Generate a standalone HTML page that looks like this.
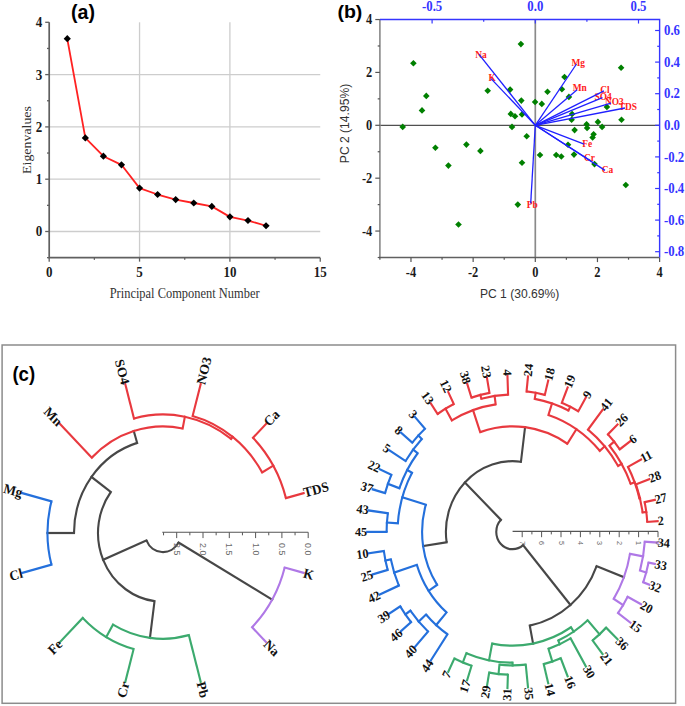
<!DOCTYPE html>
<html><head><meta charset="utf-8"><style>
html,body{margin:0;padding:0;background:#fff;width:685px;height:706px;overflow:hidden}
svg{display:block}
</style></head><body>
<svg width="685" height="706" viewBox="0 0 685 706">
<rect width="685" height="706" fill="#fff"/>
<line x1="49.20" y1="231.50" x2="320.25" y2="231.50" stroke="#cdcdcd" stroke-width="1.3"/>
<line x1="49.20" y1="179.20" x2="320.25" y2="179.20" stroke="#cdcdcd" stroke-width="1.3"/>
<line x1="49.20" y1="126.90" x2="320.25" y2="126.90" stroke="#cdcdcd" stroke-width="1.3"/>
<line x1="49.20" y1="74.60" x2="320.25" y2="74.60" stroke="#cdcdcd" stroke-width="1.3"/>
<line x1="139.55" y1="22.30" x2="139.55" y2="257.65" stroke="#cdcdcd" stroke-width="1.3"/>
<line x1="229.90" y1="22.30" x2="229.90" y2="257.65" stroke="#cdcdcd" stroke-width="1.3"/>
<path d="M49.20 22.30 V257.65 H320.25" fill="none" stroke="#606060" stroke-width="1.7"/>
<line x1="45.20" y1="231.50" x2="49.20" y2="231.50" stroke="#606060" stroke-width="1.3"/>
<line x1="45.20" y1="179.20" x2="49.20" y2="179.20" stroke="#606060" stroke-width="1.3"/>
<line x1="45.20" y1="126.90" x2="49.20" y2="126.90" stroke="#606060" stroke-width="1.3"/>
<line x1="45.20" y1="74.60" x2="49.20" y2="74.60" stroke="#606060" stroke-width="1.3"/>
<line x1="45.20" y1="22.30" x2="49.20" y2="22.30" stroke="#606060" stroke-width="1.3"/>
<line x1="47.00" y1="257.65" x2="49.20" y2="257.65" stroke="#606060" stroke-width="1.3"/>
<line x1="47.00" y1="205.35" x2="49.20" y2="205.35" stroke="#606060" stroke-width="1.3"/>
<line x1="47.00" y1="153.05" x2="49.20" y2="153.05" stroke="#606060" stroke-width="1.3"/>
<line x1="47.00" y1="100.75" x2="49.20" y2="100.75" stroke="#606060" stroke-width="1.3"/>
<line x1="47.00" y1="48.45" x2="49.20" y2="48.45" stroke="#606060" stroke-width="1.3"/>
<line x1="49.20" y1="257.65" x2="49.20" y2="261.65" stroke="#606060" stroke-width="1.3"/>
<line x1="139.55" y1="257.65" x2="139.55" y2="261.65" stroke="#606060" stroke-width="1.3"/>
<line x1="229.90" y1="257.65" x2="229.90" y2="261.65" stroke="#606060" stroke-width="1.3"/>
<line x1="320.25" y1="257.65" x2="320.25" y2="261.65" stroke="#606060" stroke-width="1.3"/>
<line x1="94.38" y1="257.65" x2="94.38" y2="259.85" stroke="#606060" stroke-width="1.3"/>
<line x1="184.73" y1="257.65" x2="184.73" y2="259.85" stroke="#606060" stroke-width="1.3"/>
<line x1="275.07" y1="257.65" x2="275.07" y2="259.85" stroke="#606060" stroke-width="1.3"/>
<text transform="translate(42.20,236.40) scale(1.000,1.130)" text-anchor="end" font-family='"Liberation Serif", serif' font-weight="bold" font-size="13" fill="#1a1a1a">0</text>
<text transform="translate(42.20,184.10) scale(1.000,1.130)" text-anchor="end" font-family='"Liberation Serif", serif' font-weight="bold" font-size="13" fill="#1a1a1a">1</text>
<text transform="translate(42.20,131.80) scale(1.000,1.130)" text-anchor="end" font-family='"Liberation Serif", serif' font-weight="bold" font-size="13" fill="#1a1a1a">2</text>
<text transform="translate(42.20,79.50) scale(1.000,1.130)" text-anchor="end" font-family='"Liberation Serif", serif' font-weight="bold" font-size="13" fill="#1a1a1a">3</text>
<text transform="translate(42.20,27.20) scale(1.000,1.130)" text-anchor="end" font-family='"Liberation Serif", serif' font-weight="bold" font-size="13" fill="#1a1a1a">4</text>
<text transform="translate(49.20,277.20) scale(1.000,1.130)" text-anchor="middle" font-family='"Liberation Serif", serif' font-weight="bold" font-size="13" fill="#1a1a1a">0</text>
<text transform="translate(139.55,277.20) scale(1.000,1.130)" text-anchor="middle" font-family='"Liberation Serif", serif' font-weight="bold" font-size="13" fill="#1a1a1a">5</text>
<text transform="translate(229.90,277.20) scale(1.000,1.130)" text-anchor="middle" font-family='"Liberation Serif", serif' font-weight="bold" font-size="13" fill="#1a1a1a">10</text>
<text transform="translate(320.25,277.20) scale(1.000,1.130)" text-anchor="middle" font-family='"Liberation Serif", serif' font-weight="bold" font-size="13" fill="#1a1a1a">15</text>
<text transform="translate(184.60,298.30) scale(1.000,1.120)" text-anchor="middle" font-family='"Liberation Serif", serif' font-size="12.45" fill="#333">Principal Component Number</text>
<text transform="translate(31.30,140.00) rotate(-90) scale(1.120,1.000)" text-anchor="middle" font-family='"Liberation Serif", serif' font-size="12.4" fill="#333">Eigenvalues</text>
<path d="M67.27 38.72 L85.34 137.88 L103.41 156.19 L121.48 164.82 L139.55 188.09 L157.62 194.52 L175.69 199.60 L193.76 203.00 L211.83 206.40 L229.90 216.86 L247.97 220.52 L266.04 225.75" fill="none" stroke="#ff2222" stroke-width="1.8" stroke-linejoin="round"/>
<path d="M67.27 35.12 L70.87 38.72 L67.27 42.32 L63.67 38.72Z" fill="#000"/>
<path d="M85.34 134.28 L88.94 137.88 L85.34 141.48 L81.74 137.88Z" fill="#000"/>
<path d="M103.41 152.59 L107.01 156.19 L103.41 159.79 L99.81 156.19Z" fill="#000"/>
<path d="M121.48 161.22 L125.08 164.82 L121.48 168.42 L117.88 164.82Z" fill="#000"/>
<path d="M139.55 184.49 L143.15 188.09 L139.55 191.69 L135.95 188.09Z" fill="#000"/>
<path d="M157.62 190.92 L161.22 194.52 L157.62 198.12 L154.02 194.52Z" fill="#000"/>
<path d="M175.69 196.00 L179.29 199.60 L175.69 203.20 L172.09 199.60Z" fill="#000"/>
<path d="M193.76 199.40 L197.36 203.00 L193.76 206.60 L190.16 203.00Z" fill="#000"/>
<path d="M211.83 202.80 L215.43 206.40 L211.83 210.00 L208.23 206.40Z" fill="#000"/>
<path d="M229.90 213.26 L233.50 216.86 L229.90 220.46 L226.30 216.86Z" fill="#000"/>
<path d="M247.97 216.92 L251.57 220.52 L247.97 224.12 L244.37 220.52Z" fill="#000"/>
<path d="M266.04 222.15 L269.64 225.75 L266.04 229.35 L262.44 225.75Z" fill="#000"/>
<text transform="translate(71.00,18.70)" text-anchor="start" font-family='"Liberation Sans", sans-serif' font-weight="bold" font-size="19.6" fill="#000">(a)</text>
<line x1="379.90" y1="125.30" x2="659.62" y2="125.30" stroke="#505050" stroke-width="1.3"/>
<line x1="535.30" y1="19.54" x2="535.30" y2="257.50" stroke="#8a8a8a" stroke-width="1.7"/>
<line x1="379.90" y1="19.54" x2="379.90" y2="257.50" stroke="#888" stroke-width="1.6"/>
<line x1="379.10" y1="257.50" x2="659.62" y2="257.50" stroke="#606060" stroke-width="1.5"/>
<path d="M379.90 19.54 H659.62 V257.50" fill="none" stroke="#3535ff" stroke-width="1.4"/>
<line x1="375.30" y1="231.06" x2="379.90" y2="231.06" stroke="#555" stroke-width="1.2"/>
<line x1="410.98" y1="257.50" x2="410.98" y2="262.10" stroke="#555" stroke-width="1.2"/>
<line x1="375.30" y1="178.18" x2="379.90" y2="178.18" stroke="#555" stroke-width="1.2"/>
<line x1="473.14" y1="257.50" x2="473.14" y2="262.10" stroke="#555" stroke-width="1.2"/>
<line x1="375.30" y1="125.30" x2="379.90" y2="125.30" stroke="#555" stroke-width="1.2"/>
<line x1="535.30" y1="257.50" x2="535.30" y2="262.10" stroke="#555" stroke-width="1.2"/>
<line x1="375.30" y1="72.42" x2="379.90" y2="72.42" stroke="#555" stroke-width="1.2"/>
<line x1="597.46" y1="257.50" x2="597.46" y2="262.10" stroke="#555" stroke-width="1.2"/>
<line x1="375.30" y1="19.54" x2="379.90" y2="19.54" stroke="#555" stroke-width="1.2"/>
<line x1="659.62" y1="257.50" x2="659.62" y2="262.10" stroke="#555" stroke-width="1.2"/>
<line x1="377.70" y1="257.50" x2="379.90" y2="257.50" stroke="#555" stroke-width="1.2"/>
<line x1="377.70" y1="204.62" x2="379.90" y2="204.62" stroke="#555" stroke-width="1.2"/>
<line x1="377.70" y1="151.74" x2="379.90" y2="151.74" stroke="#555" stroke-width="1.2"/>
<line x1="377.70" y1="98.86" x2="379.90" y2="98.86" stroke="#555" stroke-width="1.2"/>
<line x1="377.70" y1="45.98" x2="379.90" y2="45.98" stroke="#555" stroke-width="1.2"/>
<line x1="379.90" y1="257.50" x2="379.90" y2="259.70" stroke="#555" stroke-width="1.2"/>
<line x1="442.06" y1="257.50" x2="442.06" y2="259.70" stroke="#555" stroke-width="1.2"/>
<line x1="504.22" y1="257.50" x2="504.22" y2="259.70" stroke="#555" stroke-width="1.2"/>
<line x1="566.38" y1="257.50" x2="566.38" y2="259.70" stroke="#555" stroke-width="1.2"/>
<line x1="628.54" y1="257.50" x2="628.54" y2="259.70" stroke="#555" stroke-width="1.2"/>
<line x1="432.10" y1="19.54" x2="432.10" y2="23.54" stroke="#3535ff" stroke-width="1.2"/>
<line x1="535.30" y1="19.54" x2="535.30" y2="23.54" stroke="#3535ff" stroke-width="1.2"/>
<line x1="638.50" y1="19.54" x2="638.50" y2="23.54" stroke="#3535ff" stroke-width="1.2"/>
<line x1="483.70" y1="19.54" x2="483.70" y2="21.74" stroke="#3535ff" stroke-width="1.2"/>
<line x1="586.90" y1="19.54" x2="586.90" y2="21.74" stroke="#3535ff" stroke-width="1.2"/>
<line x1="655.12" y1="30.50" x2="659.62" y2="30.50" stroke="#3535ff" stroke-width="1.2"/>
<line x1="655.12" y1="62.10" x2="659.62" y2="62.10" stroke="#3535ff" stroke-width="1.2"/>
<line x1="655.12" y1="93.70" x2="659.62" y2="93.70" stroke="#3535ff" stroke-width="1.2"/>
<line x1="655.12" y1="125.30" x2="659.62" y2="125.30" stroke="#3535ff" stroke-width="1.2"/>
<line x1="655.12" y1="156.90" x2="659.62" y2="156.90" stroke="#3535ff" stroke-width="1.2"/>
<line x1="655.12" y1="188.50" x2="659.62" y2="188.50" stroke="#3535ff" stroke-width="1.2"/>
<line x1="655.12" y1="220.10" x2="659.62" y2="220.10" stroke="#3535ff" stroke-width="1.2"/>
<line x1="655.12" y1="251.70" x2="659.62" y2="251.70" stroke="#3535ff" stroke-width="1.2"/>
<line x1="657.22" y1="46.30" x2="659.62" y2="46.30" stroke="#3535ff" stroke-width="1.2"/>
<line x1="657.22" y1="77.90" x2="659.62" y2="77.90" stroke="#3535ff" stroke-width="1.2"/>
<line x1="657.22" y1="109.50" x2="659.62" y2="109.50" stroke="#3535ff" stroke-width="1.2"/>
<line x1="657.22" y1="141.10" x2="659.62" y2="141.10" stroke="#3535ff" stroke-width="1.2"/>
<line x1="657.22" y1="172.70" x2="659.62" y2="172.70" stroke="#3535ff" stroke-width="1.2"/>
<line x1="657.22" y1="204.30" x2="659.62" y2="204.30" stroke="#3535ff" stroke-width="1.2"/>
<line x1="657.22" y1="235.90" x2="659.62" y2="235.90" stroke="#3535ff" stroke-width="1.2"/>
<text transform="translate(372.30,235.66) scale(1.000,1.180)" text-anchor="end" font-family='"Liberation Serif", serif' font-weight="bold" font-size="12.4" fill="#1a1a1a">-4</text>
<text transform="translate(410.98,276.50) scale(1.000,1.180)" text-anchor="middle" font-family='"Liberation Serif", serif' font-weight="bold" font-size="12.4" fill="#1a1a1a">-4</text>
<text transform="translate(372.30,182.78) scale(1.000,1.180)" text-anchor="end" font-family='"Liberation Serif", serif' font-weight="bold" font-size="12.4" fill="#1a1a1a">-2</text>
<text transform="translate(473.14,276.50) scale(1.000,1.180)" text-anchor="middle" font-family='"Liberation Serif", serif' font-weight="bold" font-size="12.4" fill="#1a1a1a">-2</text>
<text transform="translate(372.30,129.90) scale(1.000,1.180)" text-anchor="end" font-family='"Liberation Serif", serif' font-weight="bold" font-size="12.4" fill="#1a1a1a">0</text>
<text transform="translate(535.30,276.50) scale(1.000,1.180)" text-anchor="middle" font-family='"Liberation Serif", serif' font-weight="bold" font-size="12.4" fill="#1a1a1a">0</text>
<text transform="translate(372.30,77.02) scale(1.000,1.180)" text-anchor="end" font-family='"Liberation Serif", serif' font-weight="bold" font-size="12.4" fill="#1a1a1a">2</text>
<text transform="translate(597.46,276.50) scale(1.000,1.180)" text-anchor="middle" font-family='"Liberation Serif", serif' font-weight="bold" font-size="12.4" fill="#1a1a1a">2</text>
<text transform="translate(372.30,24.14) scale(1.000,1.180)" text-anchor="end" font-family='"Liberation Serif", serif' font-weight="bold" font-size="12.4" fill="#1a1a1a">4</text>
<text transform="translate(659.62,276.50) scale(1.000,1.180)" text-anchor="middle" font-family='"Liberation Serif", serif' font-weight="bold" font-size="12.4" fill="#1a1a1a">4</text>
<text transform="translate(432.10,11.30) scale(1.000,1.120)" text-anchor="middle" font-family='"Liberation Serif", serif' font-weight="bold" font-size="12.8" fill="#3535ff">-0.5</text>
<text transform="translate(535.30,11.30) scale(1.000,1.120)" text-anchor="middle" font-family='"Liberation Serif", serif' font-weight="bold" font-size="12.8" fill="#3535ff">0.0</text>
<text transform="translate(638.50,11.30) scale(1.000,1.120)" text-anchor="middle" font-family='"Liberation Serif", serif' font-weight="bold" font-size="12.8" fill="#3535ff">0.5</text>
<text transform="translate(664.00,35.20) scale(1.000,1.150)" text-anchor="start" font-family='"Liberation Serif", serif' font-weight="bold" font-size="12.8" fill="#3535ff">0.6</text>
<text transform="translate(664.00,66.80) scale(1.000,1.150)" text-anchor="start" font-family='"Liberation Serif", serif' font-weight="bold" font-size="12.8" fill="#3535ff">0.4</text>
<text transform="translate(664.00,98.40) scale(1.000,1.150)" text-anchor="start" font-family='"Liberation Serif", serif' font-weight="bold" font-size="12.8" fill="#3535ff">0.2</text>
<text transform="translate(664.00,130.00) scale(1.000,1.150)" text-anchor="start" font-family='"Liberation Serif", serif' font-weight="bold" font-size="12.8" fill="#3535ff">0.0</text>
<text transform="translate(664.00,161.60) scale(1.000,1.150)" text-anchor="start" font-family='"Liberation Serif", serif' font-weight="bold" font-size="12.8" fill="#3535ff">-0.2</text>
<text transform="translate(664.00,193.20) scale(1.000,1.150)" text-anchor="start" font-family='"Liberation Serif", serif' font-weight="bold" font-size="12.8" fill="#3535ff">-0.4</text>
<text transform="translate(664.00,224.80) scale(1.000,1.150)" text-anchor="start" font-family='"Liberation Serif", serif' font-weight="bold" font-size="12.8" fill="#3535ff">-0.6</text>
<text transform="translate(664.00,256.40) scale(1.000,1.150)" text-anchor="start" font-family='"Liberation Serif", serif' font-weight="bold" font-size="12.8" fill="#3535ff">-0.8</text>
<text transform="translate(519.60,297.70)" text-anchor="middle" font-family='"Liberation Sans", sans-serif' font-size="12.1" fill="#333">PC 1 (30.69%)</text>
<text transform="translate(348.60,123.50) rotate(-90)" text-anchor="middle" font-family='"Liberation Sans", sans-serif' font-size="12.1" fill="#333">PC 2 (14.95%)</text>
<text transform="translate(337.40,17.60) scale(1.050,1.000)" text-anchor="start" font-family='"Liberation Sans", sans-serif' font-weight="bold" font-size="18.6" fill="#000">(b)</text>
<path d="M520.90 40.80 L524.20 44.10 L520.90 47.40 L517.60 44.10Z" fill="#008000"/>
<path d="M413.40 59.90 L416.70 63.20 L413.40 66.50 L410.10 63.20Z" fill="#008000"/>
<path d="M621.10 64.50 L624.40 67.80 L621.10 71.10 L617.80 67.80Z" fill="#008000"/>
<path d="M564.50 73.70 L567.80 77.00 L564.50 80.30 L561.20 77.00Z" fill="#008000"/>
<path d="M426.30 92.60 L429.60 95.90 L426.30 99.20 L423.00 95.90Z" fill="#008000"/>
<path d="M487.70 87.50 L491.00 90.80 L487.70 94.10 L484.40 90.80Z" fill="#008000"/>
<path d="M510.10 86.30 L513.40 89.60 L510.10 92.90 L506.80 89.60Z" fill="#008000"/>
<path d="M547.50 88.40 L550.80 91.70 L547.50 95.00 L544.20 91.70Z" fill="#008000"/>
<path d="M561.90 86.00 L565.20 89.30 L561.90 92.60 L558.60 89.30Z" fill="#008000"/>
<path d="M568.90 93.60 L572.20 96.90 L568.90 100.20 L565.60 96.90Z" fill="#008000"/>
<path d="M422.00 107.10 L425.30 110.40 L422.00 113.70 L418.70 110.40Z" fill="#008000"/>
<path d="M521.30 97.30 L524.60 100.60 L521.30 103.90 L518.00 100.60Z" fill="#008000"/>
<path d="M535.10 98.70 L538.40 102.00 L535.10 105.30 L531.80 102.00Z" fill="#008000"/>
<path d="M541.80 100.60 L545.10 103.90 L541.80 107.20 L538.50 103.90Z" fill="#008000"/>
<path d="M510.80 110.60 L514.10 113.90 L510.80 117.20 L507.50 113.90Z" fill="#008000"/>
<path d="M515.00 112.90 L518.30 116.20 L515.00 119.50 L511.70 116.20Z" fill="#008000"/>
<path d="M522.00 111.10 L525.30 114.40 L522.00 117.70 L518.70 114.40Z" fill="#008000"/>
<path d="M572.10 110.70 L575.40 114.00 L572.10 117.30 L568.80 114.00Z" fill="#008000"/>
<path d="M571.60 116.50 L574.90 119.80 L571.60 123.10 L568.30 119.80Z" fill="#008000"/>
<path d="M606.90 103.60 L610.20 106.90 L606.90 110.20 L603.60 106.90Z" fill="#008000"/>
<path d="M621.50 116.40 L624.80 119.70 L621.50 123.00 L618.20 119.70Z" fill="#008000"/>
<path d="M402.70 123.60 L406.00 126.90 L402.70 130.20 L399.40 126.90Z" fill="#008000"/>
<path d="M512.00 123.60 L515.30 126.90 L512.00 130.20 L508.70 126.90Z" fill="#008000"/>
<path d="M586.60 121.00 L589.90 124.30 L586.60 127.60 L583.30 124.30Z" fill="#008000"/>
<path d="M587.10 124.60 L590.40 127.90 L587.10 131.20 L583.80 127.90Z" fill="#008000"/>
<path d="M597.90 118.60 L601.20 121.90 L597.90 125.20 L594.60 121.90Z" fill="#008000"/>
<path d="M602.10 123.60 L605.40 126.90 L602.10 130.20 L598.80 126.90Z" fill="#008000"/>
<path d="M526.70 132.90 L530.00 136.20 L526.70 139.50 L523.40 136.20Z" fill="#008000"/>
<path d="M574.60 126.80 L577.90 130.10 L574.60 133.40 L571.30 130.10Z" fill="#008000"/>
<path d="M593.60 131.00 L596.90 134.30 L593.60 137.60 L590.30 134.30Z" fill="#008000"/>
<path d="M592.60 134.20 L595.90 137.50 L592.60 140.80 L589.30 137.50Z" fill="#008000"/>
<path d="M568.00 141.40 L571.30 144.70 L568.00 148.00 L564.70 144.70Z" fill="#008000"/>
<path d="M435.40 144.50 L438.70 147.80 L435.40 151.10 L432.10 147.80Z" fill="#008000"/>
<path d="M466.40 141.30 L469.70 144.60 L466.40 147.90 L463.10 144.60Z" fill="#008000"/>
<path d="M480.40 147.60 L483.70 150.90 L480.40 154.20 L477.10 150.90Z" fill="#008000"/>
<path d="M540.00 151.70 L543.30 155.00 L540.00 158.30 L536.70 155.00Z" fill="#008000"/>
<path d="M556.20 151.70 L559.50 155.00 L556.20 158.30 L552.90 155.00Z" fill="#008000"/>
<path d="M561.30 153.20 L564.60 156.50 L561.30 159.80 L558.00 156.50Z" fill="#008000"/>
<path d="M574.00 151.30 L577.30 154.60 L574.00 157.90 L570.70 154.60Z" fill="#008000"/>
<path d="M448.40 162.30 L451.70 165.60 L448.40 168.90 L445.10 165.60Z" fill="#008000"/>
<path d="M522.00 159.50 L525.30 162.80 L522.00 166.10 L518.70 162.80Z" fill="#008000"/>
<path d="M594.50 160.80 L597.80 164.10 L594.50 167.40 L591.20 164.10Z" fill="#008000"/>
<path d="M625.80 181.70 L629.10 185.00 L625.80 188.30 L622.50 185.00Z" fill="#008000"/>
<path d="M517.80 201.30 L521.10 204.60 L517.80 207.90 L514.50 204.60Z" fill="#008000"/>
<path d="M458.50 221.20 L461.80 224.50 L458.50 227.80 L455.20 224.50Z" fill="#008000"/>
<text x="475.30" y="57.60" font-family='"Liberation Serif", serif' font-weight="bold" font-size="9.4" fill="#ff2020">Na</text>
<text x="488.60" y="81.00" font-family='"Liberation Serif", serif' font-weight="bold" font-size="9.4" fill="#ff2020">K</text>
<text x="571.40" y="66.40" font-family='"Liberation Serif", serif' font-weight="bold" font-size="9.4" fill="#ff2020">Mg</text>
<text x="572.70" y="90.60" font-family='"Liberation Serif", serif' font-weight="bold" font-size="9.4" fill="#ff2020">Mn</text>
<text x="600.20" y="93.00" font-family='"Liberation Serif", serif' font-weight="bold" font-size="9.4" fill="#ff2020">Cl</text>
<text x="594.50" y="99.60" font-family='"Liberation Serif", serif' font-weight="bold" font-size="9.4" fill="#ff2020">SO4</text>
<text x="605.00" y="105.00" font-family='"Liberation Serif", serif' font-weight="bold" font-size="9.4" fill="#ff2020">NO3</text>
<text x="618.80" y="110.00" font-family='"Liberation Serif", serif' font-weight="bold" font-size="9.4" fill="#ff2020">TDS</text>
<text x="582.20" y="147.00" font-family='"Liberation Serif", serif' font-weight="bold" font-size="9.4" fill="#ff2020">Fe</text>
<text x="584.00" y="160.80" font-family='"Liberation Serif", serif' font-weight="bold" font-size="9.4" fill="#ff2020">Cr</text>
<text x="601.70" y="172.60" font-family='"Liberation Serif", serif' font-weight="bold" font-size="9.4" fill="#ff2020">Ca</text>
<text x="526.70" y="208.20" font-family='"Liberation Serif", serif' font-weight="bold" font-size="9.4" fill="#ff2020">Pb</text>
<line x1="535.30" y1="125.30" x2="479.00" y2="54.30" stroke="#2020ff" stroke-width="1.3"/>
<line x1="535.30" y1="125.30" x2="491.00" y2="78.60" stroke="#2020ff" stroke-width="1.3"/>
<line x1="535.30" y1="125.30" x2="576.50" y2="64.00" stroke="#2020ff" stroke-width="1.3"/>
<line x1="535.30" y1="125.30" x2="577.10" y2="89.80" stroke="#2020ff" stroke-width="1.3"/>
<line x1="535.30" y1="125.30" x2="604.00" y2="90.80" stroke="#2020ff" stroke-width="1.3"/>
<line x1="535.30" y1="125.30" x2="602.50" y2="97.60" stroke="#2020ff" stroke-width="1.3"/>
<line x1="535.30" y1="125.30" x2="611.00" y2="103.20" stroke="#2020ff" stroke-width="1.3"/>
<line x1="535.30" y1="125.30" x2="625.00" y2="108.00" stroke="#2020ff" stroke-width="1.3"/>
<line x1="535.30" y1="125.30" x2="584.10" y2="144.20" stroke="#2020ff" stroke-width="1.3"/>
<line x1="535.30" y1="125.30" x2="591.00" y2="161.00" stroke="#2020ff" stroke-width="1.3"/>
<line x1="535.30" y1="125.30" x2="605.00" y2="170.40" stroke="#2020ff" stroke-width="1.3"/>
<line x1="535.30" y1="125.30" x2="530.70" y2="203.40" stroke="#2020ff" stroke-width="1.3"/>
<rect x="2.1" y="345.0" width="673.5" height="358.3" fill="none" stroke="#8c8c8c" stroke-width="1.5"/>
<text transform="translate(12.40,381.00) scale(0.910,1.000)" text-anchor="start" font-family='"Liberation Sans", sans-serif' font-weight="bold" font-size="20.4" fill="#000">(c)</text>
<g transform="translate(163.0,533.0) scale(1,1.058)">
<path d="M15.59 9.00 A18.00 18.00 0 0 1 -16.57 7.02" fill="none" stroke="#474747" stroke-width="2.1"/>
<line x1="109.12" y1="63.00" x2="15.59" y2="9.00" stroke="#474747" stroke-width="2.1" stroke-linecap="square"/>
<path d="M121.71 32.61 A126.00 126.00 0 0 1 89.10 89.10" fill="none" stroke="#af78e6" stroke-width="2.1"/>
<line x1="140.64" y1="37.68" x2="121.71" y2="32.61" stroke="#af78e6" stroke-width="2.1" stroke-linecap="square"/>
<line x1="102.95" y1="102.95" x2="89.10" y2="89.10" stroke="#af78e6" stroke-width="2.1" stroke-linecap="square"/>
<line x1="-59.85" y1="25.36" x2="-16.57" y2="7.02" stroke="#474747" stroke-width="2.1" stroke-linecap="square"/>
<path d="M-8.48 64.44 A65.00 65.00 0 0 1 -52.21 -38.72" fill="none" stroke="#474747" stroke-width="2.1"/>
<line x1="-13.05" y1="99.14" x2="-8.48" y2="64.44" stroke="#474747" stroke-width="2.1" stroke-linecap="square"/>
<path d="M25.88 96.59 A100.00 100.00 0 0 1 -50.00 86.60" fill="none" stroke="#3caa6e" stroke-width="2.1"/>
<line x1="37.68" y1="140.64" x2="25.88" y2="96.59" stroke="#3caa6e" stroke-width="2.1" stroke-linecap="square"/>
<line x1="-56.75" y1="98.29" x2="-50.00" y2="86.60" stroke="#3caa6e" stroke-width="2.1" stroke-linecap="square"/>
<path d="M-29.38 109.63 A113.50 113.50 0 0 1 -80.26 80.26" fill="none" stroke="#3caa6e" stroke-width="2.1"/>
<line x1="-37.68" y1="140.64" x2="-29.38" y2="109.63" stroke="#3caa6e" stroke-width="2.1" stroke-linecap="square"/>
<line x1="-102.95" y1="102.95" x2="-80.26" y2="80.26" stroke="#3caa6e" stroke-width="2.1" stroke-linecap="square"/>
<line x1="-71.49" y1="-53.02" x2="-52.21" y2="-38.72" stroke="#474747" stroke-width="2.1" stroke-linecap="square"/>
<path d="M-89.00 0.00 A89.00 89.00 0 0 1 -25.84 -85.17" fill="none" stroke="#474747" stroke-width="2.1"/>
<line x1="-115.50" y1="0.00" x2="-89.00" y2="0.00" stroke="#474747" stroke-width="2.1" stroke-linecap="square"/>
<path d="M-111.56 29.89 A115.50 115.50 0 0 1 -111.56 -29.89" fill="none" stroke="#2470dc" stroke-width="2.1"/>
<line x1="-140.64" y1="37.68" x2="-111.56" y2="29.89" stroke="#2470dc" stroke-width="2.1" stroke-linecap="square"/>
<line x1="-140.64" y1="-37.68" x2="-111.56" y2="-29.89" stroke="#2470dc" stroke-width="2.1" stroke-linecap="square"/>
<line x1="-29.23" y1="-96.36" x2="-25.84" y2="-85.17" stroke="#474747" stroke-width="2.1" stroke-linecap="square"/>
<path d="M-71.21 -71.21 A100.70 100.70 0 0 1 19.65 -98.77" fill="none" stroke="#e8393f" stroke-width="2.1"/>
<line x1="-102.95" y1="-102.95" x2="-71.21" y2="-71.21" stroke="#e8393f" stroke-width="2.1" stroke-linecap="square"/>
<line x1="21.85" y1="-109.85" x2="19.65" y2="-98.77" stroke="#e8393f" stroke-width="2.1" stroke-linecap="square"/>
<path d="M-28.99 -108.18 A112.00 112.00 0 0 1 68.18 -88.86" fill="none" stroke="#e8393f" stroke-width="2.1"/>
<line x1="-37.68" y1="-140.64" x2="-28.99" y2="-108.18" stroke="#e8393f" stroke-width="2.1" stroke-linecap="square"/>
<line x1="69.70" y1="-90.84" x2="68.18" y2="-88.86" stroke="#e8393f" stroke-width="2.1" stroke-linecap="square"/>
<path d="M29.63 -110.60 A114.50 114.50 0 0 1 99.16 -57.25" fill="none" stroke="#e8393f" stroke-width="2.1"/>
<line x1="37.68" y1="-140.64" x2="29.63" y2="-110.60" stroke="#e8393f" stroke-width="2.1" stroke-linecap="square"/>
<line x1="110.25" y1="-63.65" x2="99.16" y2="-57.25" stroke="#e8393f" stroke-width="2.1" stroke-linecap="square"/>
<path d="M90.01 -90.01 A127.30 127.30 0 0 1 122.96 -32.95" fill="none" stroke="#e8393f" stroke-width="2.1"/>
<line x1="102.95" y1="-102.95" x2="90.01" y2="-90.01" stroke="#e8393f" stroke-width="2.1" stroke-linecap="square"/>
<line x1="140.64" y1="-37.68" x2="122.96" y2="-32.95" stroke="#e8393f" stroke-width="2.1" stroke-linecap="square"/>
<text transform="translate(140.64,37.68) rotate(15.00)" x="0" y="0.00" text-anchor="start" dominant-baseline="central" font-family='"Liberation Serif", serif' font-weight="bold" font-size="13.2" fill="#111">K</text>
<text transform="translate(102.95,102.95) rotate(45.00)" x="0" y="0.00" text-anchor="start" dominant-baseline="central" font-family='"Liberation Serif", serif' font-weight="bold" font-size="13.2" fill="#111">Na</text>
<text transform="translate(37.68,140.64) rotate(75.00)" x="0" y="0.00" text-anchor="start" dominant-baseline="central" font-family='"Liberation Serif", serif' font-weight="bold" font-size="13.2" fill="#111">Pb</text>
<text transform="translate(-37.68,140.64) rotate(-75.00)" x="0" y="0.00" text-anchor="end" dominant-baseline="central" font-family='"Liberation Serif", serif' font-weight="bold" font-size="13.2" fill="#111">Cr</text>
<text transform="translate(-102.95,102.95) rotate(-45.00)" x="0" y="0.00" text-anchor="end" dominant-baseline="central" font-family='"Liberation Serif", serif' font-weight="bold" font-size="13.2" fill="#111">Fe</text>
<text transform="translate(-140.64,37.68) rotate(-15.00)" x="0" y="0.00" text-anchor="end" dominant-baseline="central" font-family='"Liberation Serif", serif' font-weight="bold" font-size="13.2" fill="#111">Cl</text>
<text transform="translate(-140.64,-37.68) rotate(15.00)" x="0" y="0.00" text-anchor="end" dominant-baseline="central" font-family='"Liberation Serif", serif' font-weight="bold" font-size="13.2" fill="#111">Mg</text>
<text transform="translate(-102.95,-102.95) rotate(45.00)" x="0" y="0.00" text-anchor="end" dominant-baseline="central" font-family='"Liberation Serif", serif' font-weight="bold" font-size="13.2" fill="#111">Mn</text>
<text transform="translate(-37.68,-140.64) rotate(75.00)" x="0" y="0.00" text-anchor="end" dominant-baseline="central" font-family='"Liberation Serif", serif' font-weight="bold" font-size="13.2" fill="#111">SO4</text>
<text transform="translate(37.68,-140.64) rotate(285.00)" x="0" y="0.00" text-anchor="start" dominant-baseline="central" font-family='"Liberation Serif", serif' font-weight="bold" font-size="13.2" fill="#111">NO3</text>
<text transform="translate(102.95,-102.95) rotate(315.00)" x="0" y="0.00" text-anchor="start" dominant-baseline="central" font-family='"Liberation Serif", serif' font-weight="bold" font-size="13.2" fill="#111">Ca</text>
<text transform="translate(140.64,-37.68) rotate(345.00)" x="0" y="0.00" text-anchor="start" dominant-baseline="central" font-family='"Liberation Serif", serif' font-weight="bold" font-size="13.2" fill="#111">TDS</text>
</g>
<line x1="162.30" y1="532.30" x2="308.20" y2="532.30" stroke="#555" stroke-width="1.1"/>
<line x1="308.20" y1="532.30" x2="308.20" y2="538.10" stroke="#555" stroke-width="1.0"/>
<line x1="295.05" y1="532.30" x2="295.05" y2="535.30" stroke="#555" stroke-width="1.0"/>
<line x1="281.90" y1="532.30" x2="281.90" y2="538.10" stroke="#555" stroke-width="1.0"/>
<line x1="268.75" y1="532.30" x2="268.75" y2="535.30" stroke="#555" stroke-width="1.0"/>
<line x1="255.60" y1="532.30" x2="255.60" y2="538.10" stroke="#555" stroke-width="1.0"/>
<line x1="242.45" y1="532.30" x2="242.45" y2="535.30" stroke="#555" stroke-width="1.0"/>
<line x1="229.30" y1="532.30" x2="229.30" y2="538.10" stroke="#555" stroke-width="1.0"/>
<line x1="216.15" y1="532.30" x2="216.15" y2="535.30" stroke="#555" stroke-width="1.0"/>
<line x1="203.00" y1="532.30" x2="203.00" y2="538.10" stroke="#555" stroke-width="1.0"/>
<line x1="189.85" y1="532.30" x2="189.85" y2="535.30" stroke="#555" stroke-width="1.0"/>
<line x1="176.70" y1="532.30" x2="176.70" y2="538.10" stroke="#555" stroke-width="1.0"/>
<line x1="163.55" y1="532.30" x2="163.55" y2="535.30" stroke="#555" stroke-width="1.0"/>
<text transform="translate(308.20,543.10) rotate(90)" x="0" y="0" dominant-baseline="central" font-family='"Liberation Sans", sans-serif' font-size="8.8" fill="#6a6a6a">0.0</text>
<text transform="translate(281.90,543.10) rotate(90)" x="0" y="0" dominant-baseline="central" font-family='"Liberation Sans", sans-serif' font-size="8.8" fill="#6a6a6a">0.5</text>
<text transform="translate(255.60,543.10) rotate(90)" x="0" y="0" dominant-baseline="central" font-family='"Liberation Sans", sans-serif' font-size="8.8" fill="#6a6a6a">1.0</text>
<text transform="translate(229.30,543.10) rotate(90)" x="0" y="0" dominant-baseline="central" font-family='"Liberation Sans", sans-serif' font-size="8.8" fill="#6a6a6a">1.5</text>
<text transform="translate(203.00,543.10) rotate(90)" x="0" y="0" dominant-baseline="central" font-family='"Liberation Sans", sans-serif' font-size="8.8" fill="#6a6a6a">2.0</text>
<text transform="translate(176.70,543.10) rotate(90)" x="0" y="0" dominant-baseline="central" font-family='"Liberation Sans", sans-serif' font-size="8.8" fill="#6a6a6a">2.5</text>
<g transform="translate(512.6,531.9) scale(1,1.06)">
<path d="M10.48 12.49 A16.30 16.30 0 0 1 -11.66 -11.39" fill="none" stroke="#474747" stroke-width="2.1"/>
<line x1="57.85" y1="68.94" x2="10.48" y2="12.49" stroke="#474747" stroke-width="2.1" stroke-linecap="square"/>
<path d="M84.02 32.25 A90.00 90.00 0 0 1 17.17 88.35" fill="none" stroke="#474747" stroke-width="2.1"/>
<line x1="111.28" y1="42.72" x2="84.02" y2="32.25" stroke="#474747" stroke-width="2.1" stroke-linecap="square"/>
<path d="M117.39 20.70 A119.20 119.20 0 0 1 101.09 63.17" fill="none" stroke="#af78e6" stroke-width="2.1"/>
<line x1="130.49" y1="23.01" x2="117.39" y2="20.70" stroke="#af78e6" stroke-width="2.1" stroke-linecap="square"/>
<path d="M132.18 9.24 A132.50 132.50 0 0 1 127.37 36.52" fill="none" stroke="#af78e6" stroke-width="2.1"/>
<line x1="145.05" y1="10.14" x2="132.18" y2="9.24" stroke="#af78e6" stroke-width="2.1" stroke-linecap="square"/>
<line x1="133.62" y1="38.31" x2="127.37" y2="36.52" stroke="#af78e6" stroke-width="2.1" stroke-linecap="square"/>
<path d="M135.96 28.90 A139.00 139.00 0 0 1 130.62 47.54" fill="none" stroke="#af78e6" stroke-width="2.1"/>
<line x1="142.23" y1="30.23" x2="135.96" y2="28.90" stroke="#af78e6" stroke-width="2.1" stroke-linecap="square"/>
<line x1="136.66" y1="49.74" x2="130.62" y2="47.54" stroke="#af78e6" stroke-width="2.1" stroke-linecap="square"/>
<line x1="110.50" y1="69.05" x2="101.09" y2="63.17" stroke="#af78e6" stroke-width="2.1" stroke-linecap="square"/>
<path d="M115.05 61.17 A130.30 130.30 0 0 1 105.41 76.59" fill="none" stroke="#af78e6" stroke-width="2.1"/>
<line x1="128.47" y1="68.31" x2="115.05" y2="61.17" stroke="#af78e6" stroke-width="2.1" stroke-linecap="square"/>
<line x1="117.82" y1="85.60" x2="105.41" y2="76.59" stroke="#af78e6" stroke-width="2.1" stroke-linecap="square"/>
<line x1="20.47" y1="105.33" x2="17.17" y2="88.35" stroke="#474747" stroke-width="2.1" stroke-linecap="square"/>
<path d="M58.44 89.99 A107.30 107.30 0 0 1 -20.47 105.33" fill="none" stroke="#3caa6e" stroke-width="2.1"/>
<line x1="61.11" y1="94.10" x2="58.44" y2="89.99" stroke="#3caa6e" stroke-width="2.1" stroke-linecap="square"/>
<path d="M75.08 83.38 A112.20 112.20 0 0 1 45.64 102.50" fill="none" stroke="#3caa6e" stroke-width="2.1"/>
<line x1="86.99" y1="96.61" x2="75.08" y2="83.38" stroke="#3caa6e" stroke-width="2.1" stroke-linecap="square"/>
<path d="M93.51 90.31 A130.00 130.00 0 0 1 80.04 102.44" fill="none" stroke="#3caa6e" stroke-width="2.1"/>
<line x1="104.93" y1="101.33" x2="93.51" y2="90.31" stroke="#3caa6e" stroke-width="2.1" stroke-linecap="square"/>
<line x1="89.99" y1="115.18" x2="80.04" y2="102.44" stroke="#3caa6e" stroke-width="2.1" stroke-linecap="square"/>
<line x1="47.18" y1="105.97" x2="45.64" y2="102.50" stroke="#3caa6e" stroke-width="2.1" stroke-linecap="square"/>
<path d="M58.00 100.46 A116.00 116.00 0 0 1 35.85 110.32" fill="none" stroke="#3caa6e" stroke-width="2.1"/>
<line x1="73.26" y1="126.89" x2="58.00" y2="100.46" stroke="#3caa6e" stroke-width="2.1" stroke-linecap="square"/>
<line x1="39.74" y1="122.31" x2="35.85" y2="110.32" stroke="#3caa6e" stroke-width="2.1" stroke-linecap="square"/>
<path d="M48.17 119.24 A128.60 128.60 0 0 1 31.11 124.78" fill="none" stroke="#3caa6e" stroke-width="2.1"/>
<line x1="55.02" y1="136.18" x2="48.17" y2="119.24" stroke="#3caa6e" stroke-width="2.1" stroke-linecap="square"/>
<line x1="35.60" y1="142.80" x2="31.11" y2="124.78" stroke="#3caa6e" stroke-width="2.1" stroke-linecap="square"/>
<line x1="-23.55" y1="121.13" x2="-20.47" y2="105.33" stroke="#3caa6e" stroke-width="2.1" stroke-linecap="square"/>
<path d="M0.00 123.40 A123.40 123.40 0 0 1 -46.23 114.41" fill="none" stroke="#3caa6e" stroke-width="2.1"/>
<line x1="0.00" y1="126.00" x2="0.00" y2="123.40" stroke="#3caa6e" stroke-width="2.1" stroke-linecap="square"/>
<path d="M13.17 125.31 A126.00 126.00 0 0 1 -13.17 125.31" fill="none" stroke="#3caa6e" stroke-width="2.1"/>
<line x1="15.40" y1="146.55" x2="13.17" y2="125.31" stroke="#3caa6e" stroke-width="2.1" stroke-linecap="square"/>
<line x1="-14.09" y1="134.06" x2="-13.17" y2="125.31" stroke="#3caa6e" stroke-width="2.1" stroke-linecap="square"/>
<path d="M-4.70 134.72 A134.80 134.80 0 0 1 -23.41 132.75" fill="none" stroke="#3caa6e" stroke-width="2.1"/>
<line x1="-5.14" y1="147.31" x2="-4.70" y2="134.72" stroke="#3caa6e" stroke-width="2.1" stroke-linecap="square"/>
<line x1="-25.58" y1="145.04" x2="-23.41" y2="132.75" stroke="#3caa6e" stroke-width="2.1" stroke-linecap="square"/>
<line x1="-49.75" y1="123.13" x2="-46.23" y2="114.41" stroke="#3caa6e" stroke-width="2.1" stroke-linecap="square"/>
<path d="M-41.04 126.30 A132.80 132.80 0 0 1 -58.22 119.36" fill="none" stroke="#3caa6e" stroke-width="2.1"/>
<line x1="-45.44" y1="139.84" x2="-41.04" y2="126.30" stroke="#3caa6e" stroke-width="2.1" stroke-linecap="square"/>
<line x1="-64.31" y1="131.86" x2="-58.22" y2="119.36" stroke="#3caa6e" stroke-width="2.1" stroke-linecap="square"/>
<line x1="-47.70" y1="-46.62" x2="-11.66" y2="-11.39" stroke="#474747" stroke-width="2.1" stroke-linecap="square"/>
<path d="M-65.97 9.86 A66.70 66.70 0 0 1 8.35 -66.18" fill="none" stroke="#474747" stroke-width="2.1"/>
<line x1="-89.51" y1="13.38" x2="-65.97" y2="9.86" stroke="#474747" stroke-width="2.1" stroke-linecap="square"/>
<path d="M-75.47 49.95 A90.50 90.50 0 0 1 -86.77 -25.70" fill="none" stroke="#2470dc" stroke-width="2.1"/>
<line x1="-83.97" y1="55.58" x2="-75.47" y2="49.95" stroke="#2470dc" stroke-width="2.1" stroke-linecap="square"/>
<path d="M-66.07 76.00 A100.70 100.70 0 0 1 -95.77 31.12" fill="none" stroke="#2470dc" stroke-width="2.1"/>
<line x1="-76.43" y1="87.92" x2="-66.07" y2="76.00" stroke="#2470dc" stroke-width="2.1" stroke-linecap="square"/>
<path d="M-65.15 96.58 A116.50 116.50 0 0 1 -86.58 77.95" fill="none" stroke="#2470dc" stroke-width="2.1"/>
<line x1="-81.83" y1="121.33" x2="-65.15" y2="96.58" stroke="#2470dc" stroke-width="2.1" stroke-linecap="square"/>
<line x1="-93.93" y1="84.58" x2="-86.58" y2="77.95" stroke="#2470dc" stroke-width="2.1" stroke-linecap="square"/>
<path d="M-84.58 93.93 A126.40 126.40 0 0 1 -102.26 74.30" fill="none" stroke="#2470dc" stroke-width="2.1"/>
<line x1="-97.70" y1="108.51" x2="-84.58" y2="93.93" stroke="#2470dc" stroke-width="2.1" stroke-linecap="square"/>
<line x1="-107.19" y1="77.88" x2="-102.26" y2="74.30" stroke="#2470dc" stroke-width="2.1" stroke-linecap="square"/>
<path d="M-101.50 85.17 A132.50 132.50 0 0 1 -112.37 70.21" fill="none" stroke="#2470dc" stroke-width="2.1"/>
<line x1="-111.64" y1="93.68" x2="-101.50" y2="85.17" stroke="#2470dc" stroke-width="2.1" stroke-linecap="square"/>
<line x1="-123.44" y1="77.13" x2="-112.37" y2="70.21" stroke="#2470dc" stroke-width="2.1" stroke-linecap="square"/>
<line x1="-118.41" y1="38.47" x2="-95.77" y2="31.12" stroke="#2470dc" stroke-width="2.1" stroke-linecap="square"/>
<path d="M-113.74 50.64 A124.50 124.50 0 0 1 -121.78 25.89" fill="none" stroke="#2470dc" stroke-width="2.1"/>
<line x1="-132.88" y1="59.16" x2="-113.74" y2="50.64" stroke="#2470dc" stroke-width="2.1" stroke-linecap="square"/>
<line x1="-127.16" y1="27.03" x2="-121.78" y2="25.89" stroke="#2470dc" stroke-width="2.1" stroke-linecap="square"/>
<path d="M-124.96 35.83 A130.00 130.00 0 0 1 -128.73 18.09" fill="none" stroke="#2470dc" stroke-width="2.1"/>
<line x1="-139.78" y1="40.08" x2="-124.96" y2="35.83" stroke="#2470dc" stroke-width="2.1" stroke-linecap="square"/>
<line x1="-143.99" y1="20.24" x2="-128.73" y2="18.09" stroke="#2470dc" stroke-width="2.1" stroke-linecap="square"/>
<line x1="-110.26" y1="-32.66" x2="-86.77" y2="-25.70" stroke="#2470dc" stroke-width="2.1" stroke-linecap="square"/>
<path d="M-114.72 -8.02 A115.00 115.00 0 0 1 -100.58 -55.75" fill="none" stroke="#2470dc" stroke-width="2.1"/>
<line x1="-125.69" y1="-8.79" x2="-114.72" y2="-8.02" stroke="#2470dc" stroke-width="2.1" stroke-linecap="square"/>
<path d="M-126.00 0.00 A126.00 126.00 0 0 1 -124.77 -17.54" fill="none" stroke="#2470dc" stroke-width="2.1"/>
<line x1="-145.40" y1="0.00" x2="-126.00" y2="0.00" stroke="#2470dc" stroke-width="2.1" stroke-linecap="square"/>
<line x1="-143.99" y1="-20.24" x2="-124.77" y2="-17.54" stroke="#2470dc" stroke-width="2.1" stroke-linecap="square"/>
<line x1="-105.39" y1="-58.42" x2="-100.58" y2="-55.75" stroke="#2470dc" stroke-width="2.1" stroke-linecap="square"/>
<path d="M-113.23 -41.21 A120.50 120.50 0 0 1 -94.96 -74.19" fill="none" stroke="#2470dc" stroke-width="2.1"/>
<line x1="-124.70" y1="-45.39" x2="-113.23" y2="-41.21" stroke="#2470dc" stroke-width="2.1" stroke-linecap="square"/>
<path d="M-127.56 -36.58 A132.70 132.70 0 0 1 -121.23 -53.97" fill="none" stroke="#2470dc" stroke-width="2.1"/>
<line x1="-139.78" y1="-40.08" x2="-127.56" y2="-36.58" stroke="#2470dc" stroke-width="2.1" stroke-linecap="square"/>
<line x1="-132.88" y1="-59.16" x2="-121.23" y2="-53.97" stroke="#2470dc" stroke-width="2.1" stroke-linecap="square"/>
<line x1="-99.45" y1="-77.70" x2="-94.96" y2="-74.19" stroke="#2470dc" stroke-width="2.1" stroke-linecap="square"/>
<path d="M-107.02 -66.88 A126.20 126.20 0 0 1 -90.78 -87.67" fill="none" stroke="#2470dc" stroke-width="2.1"/>
<line x1="-123.44" y1="-77.13" x2="-107.02" y2="-66.88" stroke="#2470dc" stroke-width="2.1" stroke-linecap="square"/>
<line x1="-94.23" y1="-91.00" x2="-90.78" y2="-87.67" stroke="#2470dc" stroke-width="2.1" stroke-linecap="square"/>
<path d="M-100.35 -84.21 A131.00 131.00 0 0 1 -87.66 -97.35" fill="none" stroke="#2470dc" stroke-width="2.1"/>
<line x1="-111.64" y1="-93.68" x2="-100.35" y2="-84.21" stroke="#2470dc" stroke-width="2.1" stroke-linecap="square"/>
<line x1="-97.70" y1="-108.51" x2="-87.66" y2="-97.35" stroke="#2470dc" stroke-width="2.1" stroke-linecap="square"/>
<line x1="12.46" y1="-98.82" x2="8.35" y2="-66.18" stroke="#474747" stroke-width="2.1" stroke-linecap="square"/>
<path d="M-32.43 -94.17 A99.60 99.60 0 0 1 54.79 -83.17" fill="none" stroke="#e8393f" stroke-width="2.1"/>
<line x1="-39.56" y1="-114.88" x2="-32.43" y2="-94.17" stroke="#e8393f" stroke-width="2.1" stroke-linecap="square"/>
<path d="M-60.75 -105.22 A121.50 121.50 0 0 1 -16.91 -120.32" fill="none" stroke="#e8393f" stroke-width="2.1"/>
<line x1="-67.10" y1="-116.22" x2="-60.75" y2="-105.22" stroke="#e8393f" stroke-width="2.1" stroke-linecap="square"/>
<path d="M-75.04 -111.26 A134.20 134.20 0 0 1 -58.83 -120.62" fill="none" stroke="#e8393f" stroke-width="2.1"/>
<line x1="-81.83" y1="-121.33" x2="-75.04" y2="-111.26" stroke="#e8393f" stroke-width="2.1" stroke-linecap="square"/>
<line x1="-64.31" y1="-131.86" x2="-58.83" y2="-120.62" stroke="#e8393f" stroke-width="2.1" stroke-linecap="square"/>
<line x1="-18.02" y1="-128.24" x2="-16.91" y2="-120.32" stroke="#e8393f" stroke-width="2.1" stroke-linecap="square"/>
<path d="M-31.33 -125.65 A129.50 129.50 0 0 1 -4.52 -129.42" fill="none" stroke="#e8393f" stroke-width="2.1"/>
<line x1="-32.22" y1="-129.24" x2="-31.33" y2="-125.65" stroke="#e8393f" stroke-width="2.1" stroke-linecap="square"/>
<path d="M-41.16 -126.68 A133.20 133.20 0 0 1 -23.13 -131.18" fill="none" stroke="#e8393f" stroke-width="2.1"/>
<line x1="-45.44" y1="-139.84" x2="-41.16" y2="-126.68" stroke="#e8393f" stroke-width="2.1" stroke-linecap="square"/>
<line x1="-25.58" y1="-145.04" x2="-23.13" y2="-131.18" stroke="#e8393f" stroke-width="2.1" stroke-linecap="square"/>
<line x1="-5.14" y1="-147.31" x2="-4.52" y2="-129.42" stroke="#e8393f" stroke-width="2.1" stroke-linecap="square"/>
<line x1="63.81" y1="-96.87" x2="54.79" y2="-83.17" stroke="#e8393f" stroke-width="2.1" stroke-linecap="square"/>
<path d="M35.85 -110.32 A116.00 116.00 0 0 1 87.21 -76.48" fill="none" stroke="#e8393f" stroke-width="2.1"/>
<line x1="39.40" y1="-121.26" x2="35.85" y2="-110.32" stroke="#e8393f" stroke-width="2.1" stroke-linecap="square"/>
<path d="M22.14 -125.56 A127.50 127.50 0 0 1 55.89 -114.60" fill="none" stroke="#e8393f" stroke-width="2.1"/>
<line x1="23.13" y1="-131.18" x2="22.14" y2="-125.56" stroke="#e8393f" stroke-width="2.1" stroke-linecap="square"/>
<path d="M13.92 -132.47 A133.20 133.20 0 0 1 32.22 -129.24" fill="none" stroke="#e8393f" stroke-width="2.1"/>
<line x1="15.40" y1="-146.55" x2="13.92" y2="-132.47" stroke="#e8393f" stroke-width="2.1" stroke-linecap="square"/>
<line x1="35.60" y1="-142.80" x2="32.22" y2="-129.24" stroke="#e8393f" stroke-width="2.1" stroke-linecap="square"/>
<line x1="57.60" y1="-118.10" x2="55.89" y2="-114.60" stroke="#e8393f" stroke-width="2.1" stroke-linecap="square"/>
<path d="M49.22 -121.83 A131.40 131.40 0 0 1 65.70 -113.80" fill="none" stroke="#e8393f" stroke-width="2.1"/>
<line x1="55.02" y1="-136.18" x2="49.22" y2="-121.83" stroke="#e8393f" stroke-width="2.1" stroke-linecap="square"/>
<line x1="73.26" y1="-126.89" x2="65.70" y2="-113.80" stroke="#e8393f" stroke-width="2.1" stroke-linecap="square"/>
<line x1="92.10" y1="-80.77" x2="87.21" y2="-76.48" stroke="#e8393f" stroke-width="2.1" stroke-linecap="square"/>
<path d="M75.42 -96.53 A122.50 122.50 0 0 1 105.55 -62.17" fill="none" stroke="#e8393f" stroke-width="2.1"/>
<line x1="89.99" y1="-115.18" x2="75.42" y2="-96.53" stroke="#e8393f" stroke-width="2.1" stroke-linecap="square"/>
<line x1="109.00" y1="-64.20" x2="105.55" y2="-62.17" stroke="#e8393f" stroke-width="2.1" stroke-linecap="square"/>
<path d="M96.90 -81.31 A126.50 126.50 0 0 1 118.10 -45.33" fill="none" stroke="#e8393f" stroke-width="2.1"/>
<line x1="101.50" y1="-85.17" x2="96.90" y2="-81.31" stroke="#e8393f" stroke-width="2.1" stroke-linecap="square"/>
<path d="M95.31 -92.04 A132.50 132.50 0 0 1 107.19 -77.88" fill="none" stroke="#e8393f" stroke-width="2.1"/>
<line x1="104.93" y1="-101.33" x2="95.31" y2="-92.04" stroke="#e8393f" stroke-width="2.1" stroke-linecap="square"/>
<line x1="117.82" y1="-85.60" x2="107.19" y2="-77.88" stroke="#e8393f" stroke-width="2.1" stroke-linecap="square"/>
<line x1="122.02" y1="-46.84" x2="118.10" y2="-45.33" stroke="#e8393f" stroke-width="2.1" stroke-linecap="square"/>
<path d="M115.40 -61.36 A130.70 130.70 0 0 1 126.82 -31.62" fill="none" stroke="#e8393f" stroke-width="2.1"/>
<line x1="128.47" y1="-68.31" x2="115.40" y2="-61.36" stroke="#e8393f" stroke-width="2.1" stroke-linecap="square"/>
<line x1="127.40" y1="-31.76" x2="126.82" y2="-31.62" stroke="#e8393f" stroke-width="2.1" stroke-linecap="square"/>
<path d="M123.38 -44.91 A131.30 131.30 0 0 1 130.02 -18.27" fill="none" stroke="#e8393f" stroke-width="2.1"/>
<line x1="136.66" y1="-49.74" x2="123.38" y2="-44.91" stroke="#e8393f" stroke-width="2.1" stroke-linecap="square"/>
<line x1="133.69" y1="-18.79" x2="130.02" y2="-18.27" stroke="#e8393f" stroke-width="2.1" stroke-linecap="square"/>
<path d="M132.05 -28.07 A135.00 135.00 0 0 1 134.67 -9.42" fill="none" stroke="#e8393f" stroke-width="2.1"/>
<line x1="142.23" y1="-30.23" x2="132.05" y2="-28.07" stroke="#e8393f" stroke-width="2.1" stroke-linecap="square"/>
<line x1="145.05" y1="-10.14" x2="134.67" y2="-9.42" stroke="#e8393f" stroke-width="2.1" stroke-linecap="square"/>
<text transform="translate(145.05,10.14) rotate(4.00)" x="0" y="0.00" text-anchor="start" dominant-baseline="central" font-family='"Liberation Serif", serif' font-weight="bold" font-size="12.2" fill="#111">34</text>
<text transform="translate(142.23,30.23) rotate(12.00)" x="0" y="0.00" text-anchor="start" dominant-baseline="central" font-family='"Liberation Serif", serif' font-weight="bold" font-size="12.2" fill="#111">33</text>
<text transform="translate(136.66,49.74) rotate(20.00)" x="0" y="0.00" text-anchor="start" dominant-baseline="central" font-family='"Liberation Serif", serif' font-weight="bold" font-size="12.2" fill="#111">32</text>
<text transform="translate(128.47,68.31) rotate(28.00)" x="0" y="0.00" text-anchor="start" dominant-baseline="central" font-family='"Liberation Serif", serif' font-weight="bold" font-size="12.2" fill="#111">20</text>
<text transform="translate(117.82,85.60) rotate(36.00)" x="0" y="0.00" text-anchor="start" dominant-baseline="central" font-family='"Liberation Serif", serif' font-weight="bold" font-size="12.2" fill="#111">15</text>
<text transform="translate(104.93,101.33) rotate(44.00)" x="0" y="0.00" text-anchor="start" dominant-baseline="central" font-family='"Liberation Serif", serif' font-weight="bold" font-size="12.2" fill="#111">36</text>
<text transform="translate(89.99,115.18) rotate(52.00)" x="0" y="0.00" text-anchor="start" dominant-baseline="central" font-family='"Liberation Serif", serif' font-weight="bold" font-size="12.2" fill="#111">21</text>
<text transform="translate(73.26,126.89) rotate(60.00)" x="0" y="0.00" text-anchor="start" dominant-baseline="central" font-family='"Liberation Serif", serif' font-weight="bold" font-size="12.2" fill="#111">30</text>
<text transform="translate(55.02,136.18) rotate(68.00)" x="0" y="0.00" text-anchor="start" dominant-baseline="central" font-family='"Liberation Serif", serif' font-weight="bold" font-size="12.2" fill="#111">16</text>
<text transform="translate(35.60,142.80) rotate(76.00)" x="0" y="0.00" text-anchor="start" dominant-baseline="central" font-family='"Liberation Serif", serif' font-weight="bold" font-size="12.2" fill="#111">14</text>
<text transform="translate(15.40,146.55) rotate(84.00)" x="0" y="0.00" text-anchor="start" dominant-baseline="central" font-family='"Liberation Serif", serif' font-weight="bold" font-size="12.2" fill="#111">35</text>
<text transform="translate(-5.14,147.31) rotate(-88.00)" x="0" y="0.00" text-anchor="end" dominant-baseline="central" font-family='"Liberation Serif", serif' font-weight="bold" font-size="12.2" fill="#111">31</text>
<text transform="translate(-25.58,145.04) rotate(-80.00)" x="0" y="0.00" text-anchor="end" dominant-baseline="central" font-family='"Liberation Serif", serif' font-weight="bold" font-size="12.2" fill="#111">29</text>
<text transform="translate(-45.44,139.84) rotate(-72.00)" x="0" y="0.00" text-anchor="end" dominant-baseline="central" font-family='"Liberation Serif", serif' font-weight="bold" font-size="12.2" fill="#111">17</text>
<text transform="translate(-64.31,131.86) rotate(-64.00)" x="0" y="0.00" text-anchor="end" dominant-baseline="central" font-family='"Liberation Serif", serif' font-weight="bold" font-size="12.2" fill="#111">7</text>
<text transform="translate(-81.83,121.33) rotate(-56.00)" x="0" y="0.00" text-anchor="end" dominant-baseline="central" font-family='"Liberation Serif", serif' font-weight="bold" font-size="12.2" fill="#111">44</text>
<text transform="translate(-97.70,108.51) rotate(-48.00)" x="0" y="0.00" text-anchor="end" dominant-baseline="central" font-family='"Liberation Serif", serif' font-weight="bold" font-size="12.2" fill="#111">40</text>
<text transform="translate(-111.64,93.68) rotate(-40.00)" x="0" y="0.00" text-anchor="end" dominant-baseline="central" font-family='"Liberation Serif", serif' font-weight="bold" font-size="12.2" fill="#111">46</text>
<text transform="translate(-123.44,77.13) rotate(-32.00)" x="0" y="0.00" text-anchor="end" dominant-baseline="central" font-family='"Liberation Serif", serif' font-weight="bold" font-size="12.2" fill="#111">39</text>
<text transform="translate(-132.88,59.16) rotate(-24.00)" x="0" y="0.00" text-anchor="end" dominant-baseline="central" font-family='"Liberation Serif", serif' font-weight="bold" font-size="12.2" fill="#111">42</text>
<text transform="translate(-139.78,40.08) rotate(-16.00)" x="0" y="0.00" text-anchor="end" dominant-baseline="central" font-family='"Liberation Serif", serif' font-weight="bold" font-size="12.2" fill="#111">25</text>
<text transform="translate(-143.99,20.24) rotate(-8.00)" x="0" y="0.00" text-anchor="end" dominant-baseline="central" font-family='"Liberation Serif", serif' font-weight="bold" font-size="12.2" fill="#111">10</text>
<text transform="translate(-145.40,0.00) rotate(0.00)" x="0" y="0.00" text-anchor="end" dominant-baseline="central" font-family='"Liberation Serif", serif' font-weight="bold" font-size="12.2" fill="#111">45</text>
<text transform="translate(-143.99,-20.24) rotate(8.00)" x="0" y="0.00" text-anchor="end" dominant-baseline="central" font-family='"Liberation Serif", serif' font-weight="bold" font-size="12.2" fill="#111">43</text>
<text transform="translate(-139.78,-40.08) rotate(16.00)" x="0" y="0.00" text-anchor="end" dominant-baseline="central" font-family='"Liberation Serif", serif' font-weight="bold" font-size="12.2" fill="#111">37</text>
<text transform="translate(-132.88,-59.16) rotate(24.00)" x="0" y="0.00" text-anchor="end" dominant-baseline="central" font-family='"Liberation Serif", serif' font-weight="bold" font-size="12.2" fill="#111">22</text>
<text transform="translate(-123.44,-77.13) rotate(32.00)" x="0" y="0.00" text-anchor="end" dominant-baseline="central" font-family='"Liberation Serif", serif' font-weight="bold" font-size="12.2" fill="#111">5</text>
<text transform="translate(-111.64,-93.68) rotate(40.00)" x="0" y="0.00" text-anchor="end" dominant-baseline="central" font-family='"Liberation Serif", serif' font-weight="bold" font-size="12.2" fill="#111">8</text>
<text transform="translate(-97.70,-108.51) rotate(48.00)" x="0" y="0.00" text-anchor="end" dominant-baseline="central" font-family='"Liberation Serif", serif' font-weight="bold" font-size="12.2" fill="#111">3</text>
<text transform="translate(-81.83,-121.33) rotate(56.00)" x="0" y="0.00" text-anchor="end" dominant-baseline="central" font-family='"Liberation Serif", serif' font-weight="bold" font-size="12.2" fill="#111">13</text>
<text transform="translate(-64.31,-131.86) rotate(64.00)" x="0" y="0.00" text-anchor="end" dominant-baseline="central" font-family='"Liberation Serif", serif' font-weight="bold" font-size="12.2" fill="#111">12</text>
<text transform="translate(-45.44,-139.84) rotate(72.00)" x="0" y="0.00" text-anchor="end" dominant-baseline="central" font-family='"Liberation Serif", serif' font-weight="bold" font-size="12.2" fill="#111">38</text>
<text transform="translate(-25.58,-145.04) rotate(80.00)" x="0" y="0.00" text-anchor="end" dominant-baseline="central" font-family='"Liberation Serif", serif' font-weight="bold" font-size="12.2" fill="#111">23</text>
<text transform="translate(-5.14,-147.31) rotate(88.00)" x="0" y="0.00" text-anchor="end" dominant-baseline="central" font-family='"Liberation Serif", serif' font-weight="bold" font-size="12.2" fill="#111">4</text>
<text transform="translate(15.40,-146.55) rotate(276.00)" x="0" y="0.00" text-anchor="start" dominant-baseline="central" font-family='"Liberation Serif", serif' font-weight="bold" font-size="12.2" fill="#111">24</text>
<text transform="translate(35.60,-142.80) rotate(284.00)" x="0" y="0.00" text-anchor="start" dominant-baseline="central" font-family='"Liberation Serif", serif' font-weight="bold" font-size="12.2" fill="#111">18</text>
<text transform="translate(55.02,-136.18) rotate(292.00)" x="0" y="0.00" text-anchor="start" dominant-baseline="central" font-family='"Liberation Serif", serif' font-weight="bold" font-size="12.2" fill="#111">19</text>
<text transform="translate(73.26,-126.89) rotate(300.00)" x="0" y="0.00" text-anchor="start" dominant-baseline="central" font-family='"Liberation Serif", serif' font-weight="bold" font-size="12.2" fill="#111">9</text>
<text transform="translate(89.99,-115.18) rotate(308.00)" x="0" y="0.00" text-anchor="start" dominant-baseline="central" font-family='"Liberation Serif", serif' font-weight="bold" font-size="12.2" fill="#111">41</text>
<text transform="translate(104.93,-101.33) rotate(316.00)" x="0" y="0.00" text-anchor="start" dominant-baseline="central" font-family='"Liberation Serif", serif' font-weight="bold" font-size="12.2" fill="#111">26</text>
<text transform="translate(117.82,-85.60) rotate(324.00)" x="0" y="0.00" text-anchor="start" dominant-baseline="central" font-family='"Liberation Serif", serif' font-weight="bold" font-size="12.2" fill="#111">6</text>
<text transform="translate(128.47,-68.31) rotate(332.00)" x="0" y="0.00" text-anchor="start" dominant-baseline="central" font-family='"Liberation Serif", serif' font-weight="bold" font-size="12.2" fill="#111">11</text>
<text transform="translate(136.66,-49.74) rotate(340.00)" x="0" y="0.00" text-anchor="start" dominant-baseline="central" font-family='"Liberation Serif", serif' font-weight="bold" font-size="12.2" fill="#111">28</text>
<text transform="translate(142.23,-30.23) rotate(348.00)" x="0" y="0.00" text-anchor="start" dominant-baseline="central" font-family='"Liberation Serif", serif' font-weight="bold" font-size="12.2" fill="#111">27</text>
<text transform="translate(145.05,-10.14) rotate(356.00)" x="0" y="0.00" text-anchor="start" dominant-baseline="central" font-family='"Liberation Serif", serif' font-weight="bold" font-size="12.2" fill="#111">2</text>
</g>
<line x1="512.60" y1="531.40" x2="658.00" y2="531.40" stroke="#555" stroke-width="1.1"/>
<line x1="658.00" y1="531.40" x2="658.00" y2="537.20" stroke="#555" stroke-width="1.0"/>
<line x1="648.30" y1="531.40" x2="648.30" y2="534.40" stroke="#555" stroke-width="1.0"/>
<line x1="638.60" y1="531.40" x2="638.60" y2="537.20" stroke="#555" stroke-width="1.0"/>
<line x1="628.90" y1="531.40" x2="628.90" y2="534.40" stroke="#555" stroke-width="1.0"/>
<line x1="619.20" y1="531.40" x2="619.20" y2="537.20" stroke="#555" stroke-width="1.0"/>
<line x1="609.50" y1="531.40" x2="609.50" y2="534.40" stroke="#555" stroke-width="1.0"/>
<line x1="599.80" y1="531.40" x2="599.80" y2="537.20" stroke="#555" stroke-width="1.0"/>
<line x1="590.10" y1="531.40" x2="590.10" y2="534.40" stroke="#555" stroke-width="1.0"/>
<line x1="580.40" y1="531.40" x2="580.40" y2="537.20" stroke="#555" stroke-width="1.0"/>
<line x1="570.70" y1="531.40" x2="570.70" y2="534.40" stroke="#555" stroke-width="1.0"/>
<line x1="561.00" y1="531.40" x2="561.00" y2="537.20" stroke="#555" stroke-width="1.0"/>
<line x1="551.30" y1="531.40" x2="551.30" y2="534.40" stroke="#555" stroke-width="1.0"/>
<line x1="541.60" y1="531.40" x2="541.60" y2="537.20" stroke="#555" stroke-width="1.0"/>
<line x1="531.90" y1="531.40" x2="531.90" y2="534.40" stroke="#555" stroke-width="1.0"/>
<line x1="522.20" y1="531.40" x2="522.20" y2="537.20" stroke="#555" stroke-width="1.0"/>
<text transform="translate(658.00,541.00) rotate(90)" x="0" y="0" dominant-baseline="central" font-family='"Liberation Sans", sans-serif' font-size="7.2" fill="#6a6a6a">0</text>
<text transform="translate(638.60,541.00) rotate(90)" x="0" y="0" dominant-baseline="central" font-family='"Liberation Sans", sans-serif' font-size="7.2" fill="#6a6a6a">1</text>
<text transform="translate(619.20,541.00) rotate(90)" x="0" y="0" dominant-baseline="central" font-family='"Liberation Sans", sans-serif' font-size="7.2" fill="#6a6a6a">2</text>
<text transform="translate(599.80,541.00) rotate(90)" x="0" y="0" dominant-baseline="central" font-family='"Liberation Sans", sans-serif' font-size="7.2" fill="#6a6a6a">3</text>
<text transform="translate(580.40,541.00) rotate(90)" x="0" y="0" dominant-baseline="central" font-family='"Liberation Sans", sans-serif' font-size="7.2" fill="#6a6a6a">4</text>
<text transform="translate(561.00,541.00) rotate(90)" x="0" y="0" dominant-baseline="central" font-family='"Liberation Sans", sans-serif' font-size="7.2" fill="#6a6a6a">5</text>
<text transform="translate(541.60,541.00) rotate(90)" x="0" y="0" dominant-baseline="central" font-family='"Liberation Sans", sans-serif' font-size="7.2" fill="#6a6a6a">6</text>
<text transform="translate(522.20,541.00) rotate(90)" x="0" y="0" dominant-baseline="central" font-family='"Liberation Sans", sans-serif' font-size="7.2" fill="#6a6a6a">7</text>
</svg>
</body></html>
